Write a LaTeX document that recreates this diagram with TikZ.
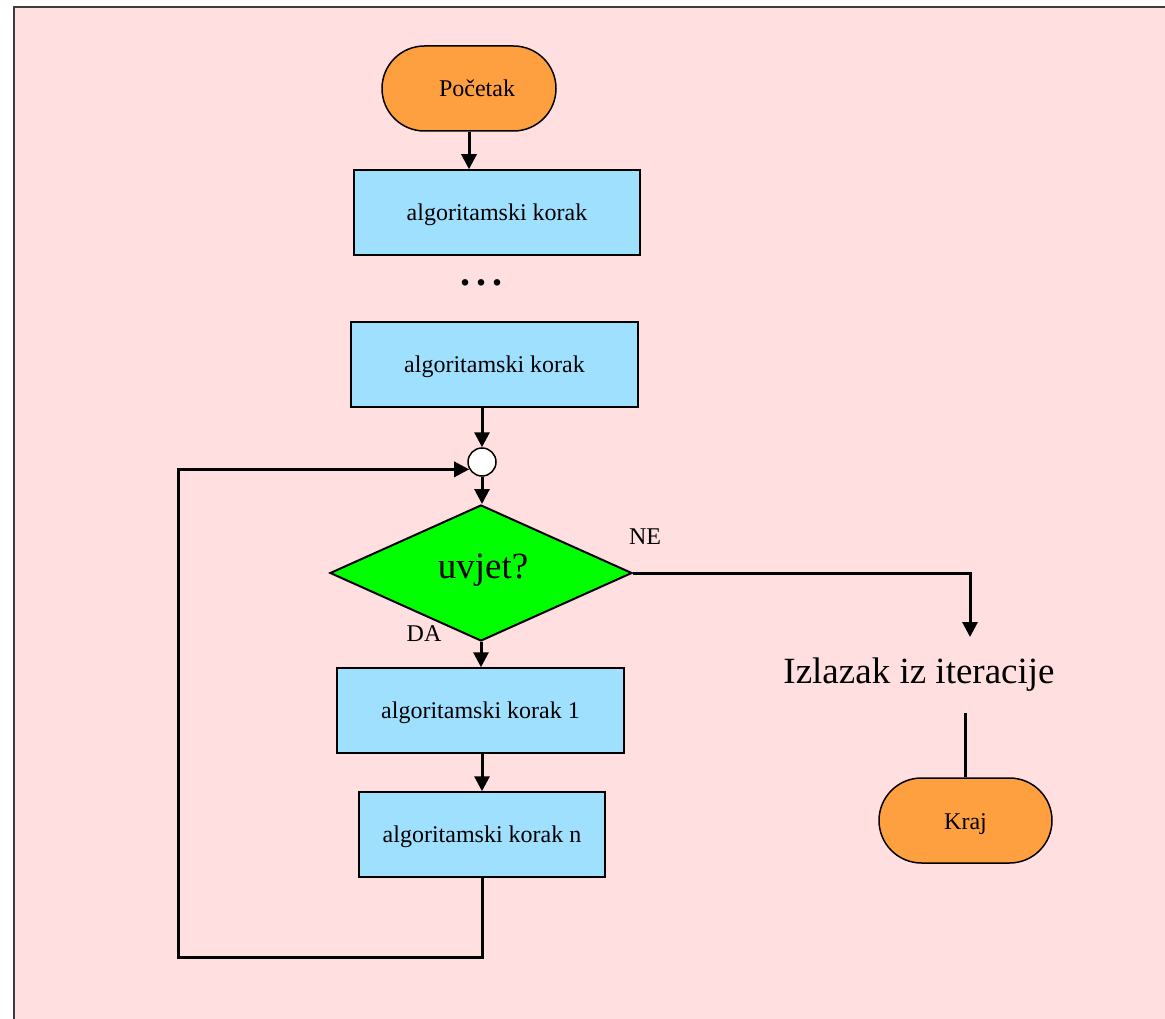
\documentclass[tikz,border=0pt]{standalone}
\usepackage{fontspec}
\setmainfont{Liberation Serif}
\usetikzlibrary{arrows.meta,shapes.geometric,calc}

\definecolor{bgpink}{RGB}{255,223,224}
\definecolor{termorange}{RGB}{255,160,64}
\definecolor{stepblue}{RGB}{160,224,255}
\definecolor{condgreen}{RGB}{0,255,0}
\definecolor{framegray}{RGB}{60,60,60}

\newcommand{\fsz}[1]{\fontsize{#1}{#1}\selectfont}

\tikzset{
  x=1pt, y=-1pt,
  terminal/.style={draw=black, line width=1.5pt, fill=termorange, rectangle,
    rounded corners=42.5pt, minimum width=174pt, minimum height=85pt,
    inner sep=0pt, text height=18pt, text depth=1pt, font=\fsz{24}},
  stepbox/.style={draw=black, line width=1.5pt, fill=stepblue, rectangle,
    minimum height=85pt, inner sep=0pt, text height=18pt, text depth=1.5pt,
    font=\fsz{24}},
  decision/.style={draw=black, line width=2pt, fill=condgreen, diamond,
    aspect=2.22, minimum width=302pt, minimum height=136pt, inner sep=0pt,
    font=\fsz{37}},
  joint/.style={draw=black, line width=1.5pt, fill=white, circle,
    minimum size=28pt, inner sep=0pt},
  flow/.style={line width=3pt, -{Triangle[length=15pt,width=15pt]}},
  plain/.style={line width=3pt},
  tag/.style={font=\fsz{24}, inner sep=0pt},
}

\begin{document}
\begin{tikzpicture}
  % page and framed panel
  \useasboundingbox (0,0) rectangle (1165,1019);
  \fill[white] (0,0) rectangle (1165,1019);
  \draw[framegray, line width=2pt, fill=bgpink] (14,7) rectangle (1180,1040);

  % nodes
  \node[terminal] (start) at (469,88.5) {\hspace*{16pt}Početak};
  \node[stepbox, minimum width=286pt] (s1) at (497,212.5) {algoritamski korak};
  \node[font=\fsz{40}\bfseries, inner sep=0pt] (dots) at (481,283) {.\kern6pt.\kern6pt.};
  \node[stepbox, minimum width=287pt] (s2) at (494.5,364.5) {algoritamski korak};
  \node[joint] (join) at (482,462) {};
  \node[decision] (cond) at (481,573) {};
  \node[font=\fsz{37}, inner sep=0pt] (condtext) at (483,570) {uvjet?};
  \node[stepbox, minimum width=287pt] (s3) at (480.5,710.5) {algoritamski korak 1};
  \node[stepbox, minimum width=246pt] (s4) at (482,834.5) {algoritamski korak n};
  \node[font=\fsz{37}, inner xsep=0pt, inner ysep=21pt] (exit) at (919,675) {Izlazak iz iteracije};
  \node[terminal, minimum width=173pt] (end) at (965.5,820.5) {Kraj};

  % branch labels
  \node[tag] (ne) at (645,537) {NE};
  \node[tag] (da) at (424,634) {DA};

  % connectors
  \draw[flow] (start.south) -- (start.south |- s1.north);
  \draw[flow] (join.north |- s2.south) -- (join.north);
  \draw[flow] (join.south) -- (join.south |- cond.north);
  \draw[flow] (cond.south) -- (cond.south |- s3.north);
  \draw[flow] (s4.north |- s3.south) -- (s4.north);
  \coordinate (loopcorner) at (178,957);
  \draw[flow] (s4.south) |- (loopcorner) |- (join.210);
  \draw[flow] (cond.east) -| ([xshift=51pt]exit.north);
  \draw[plain] (exit.south -| end.north) -- (end.north);
\end{tikzpicture}
\end{document}
